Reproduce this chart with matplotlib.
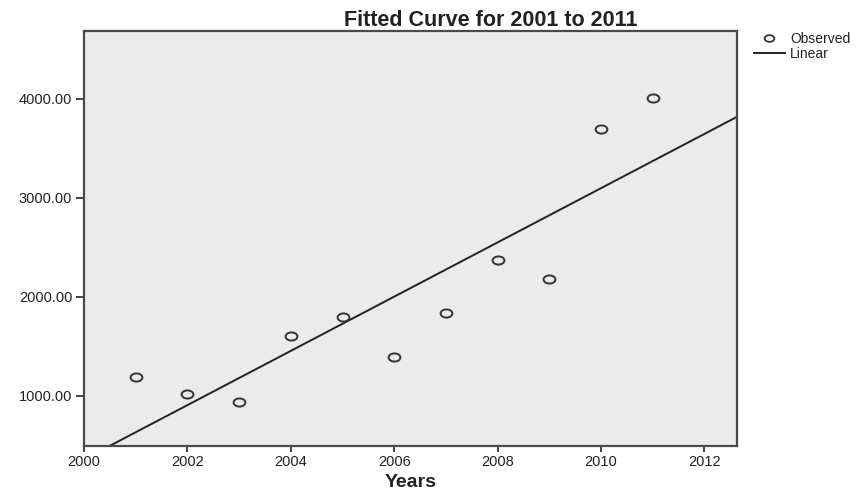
import numpy as np
import matplotlib
matplotlib.use("Agg")
import matplotlib.pyplot as plt
from matplotlib.path import Path
from matplotlib.transforms import Affine2D
from matplotlib.lines import Line2D

# ---- data ----
years = [2001, 2002, 2003, 2004, 2005, 2006, 2007, 2008, 2009, 2010, 2011]
observed = [1185, 1017, 936, 1603, 1798, 1387, 1833, 2371, 2179, 3700, 4010]
x_ticks = [2000, 2002, 2004, 2006, 2008, 2010, 2012]
y_ticks = [1000, 2000, 3000, 4000]
title = "Fitted Curve for 2001 to 2011"
x_label = "Years"
legend_labels = ["Observed", "Linear"]

plt.rcParams['font.family'] = ['Liberation Sans', 'DejaVu Sans']

W, H = 865, 491
fig = plt.figure(figsize=(W / 100, H / 100), dpi=100)
fig.patch.set_facecolor('white')

left, right, top, bottom = 84, 736.5, 30.7, 445.5
ax = fig.add_axes([left / W, 1 - bottom / H, (right - left) / W, (bottom - top) / H])
ax.set_facecolor('#ebebeb')

xlim = (2000, 2012.62)
ylim = (497, 4690)
ax.set_xlim(*xlim)
ax.set_ylim(*ylim)

# ellipse-shaped open circle marker (reference is horizontally stretched)
ellipse = Path.unit_circle().transformed(Affine2D().scale(1.45, 1.0))

ink = '#222222'

# linear fit
coef = np.polyfit(years, observed, 1)
xs = np.array(xlim)
ax.plot(xs, np.polyval(coef, xs), color=ink, lw=1.4, zorder=2, clip_on=True)

ax.plot(years, observed, linestyle='none', marker=ellipse, markersize=8.5,
        markerfacecolor='none', markeredgecolor='#333333', markeredgewidth=1.4, zorder=3)

ax.set_xticks(x_ticks)
ax.set_xticklabels([str(t) for t in x_ticks])
ax.set_yticks(y_ticks)
ax.set_yticklabels([f"{t:.2f}" for t in y_ticks])

ax.tick_params(axis='y', direction='out', length=5.5, width=1.2, pad=3,
               labelsize=10.5, colors=ink)
ax.tick_params(axis='x', direction='out', length=4.5, width=1.2, pad=2.5,
               labelsize=10.5, colors=ink)

for s in ax.spines.values():
    s.set_color('#4a4a4a')
    s.set_linewidth(1.6)

ax.set_xlabel(x_label, fontsize=14, fontweight='bold', color=ink, va='baseline')
ax.xaxis.set_label_coords(0.5, -(487 - bottom) / (bottom - top))

fig.text(490.5 / W, 1 - 26 / H, title, ha='center', va='baseline',
         fontsize=15.5, fontweight='bold', color=ink)

handles = [
    Line2D([], [], linestyle='none', marker=ellipse, markersize=7,
           markerfacecolor='none', markeredgecolor='#333333', markeredgewidth=1.3),
    Line2D([], [], color=ink, lw=1.4),
]
fig.legend(handles, legend_labels, loc='upper left',
           bbox_to_anchor=(754 / W, 1 - 32 / H), frameon=False, fontsize=10,
           handlelength=2.2, handletextpad=0.4, labelspacing=0.05,
           borderpad=0, borderaxespad=0, numpoints=1, labelcolor=ink)

fig.savefig("out.png", dpi=100)
